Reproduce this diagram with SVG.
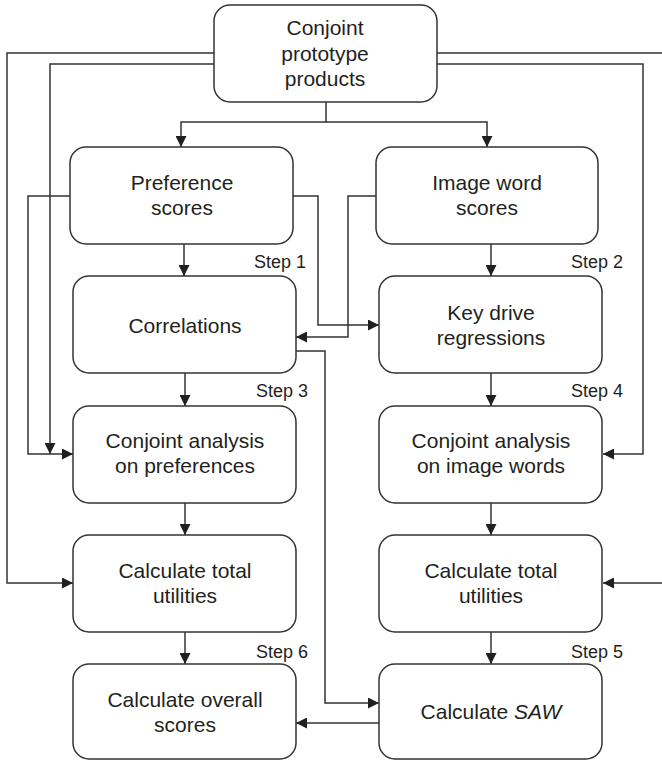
<svg xmlns="http://www.w3.org/2000/svg" width="662" height="761" viewBox="0 0 662 761">
  <style>
    .box { fill: #ffffff; stroke: #333333; stroke-width: 1.5; }
    .lbl { font-family: "Liberation Sans", Arial, sans-serif; font-size: 21px; fill: #231f20; text-anchor: middle; }
    .step { font-family: "Liberation Sans", Arial, sans-serif; font-size: 18px; fill: #231f20; text-anchor: end; }
    .wire { fill: none; stroke: #333333; stroke-width: 1.5; }
  </style>
  <defs>
    <marker id="arrow" viewBox="0 0 10 10" refX="10" refY="5" markerWidth="11" markerHeight="11" markerUnits="userSpaceOnUse" orient="auto">
      <path d="M0,0 L10,5 L0,10 Z" fill="#231f20"/>
    </marker>
  </defs>

  <rect width="662" height="761" fill="#ffffff"/>

  <!-- connectors -->
  <g id="connectors" class="wire" marker-end="url(#arrow)">
    <!-- prototype products fan-out -->
    <path d="M326,102 V122 H181 V147"/>
    <path d="M326,122 H487 V147"/>
    <path d="M214,53 H7 V583 H73"/>
    <path d="M214,64 H50 V454"/>
    <path d="M437,53 H668 V583 H603"/>
    <path d="M437,64 H643 V454 H603"/>
    <!-- score inputs -->
    <path d="M70,196 H28 V454 H73"/>
    <path d="M293,196 H318 V325 H379"/>
    <path d="M376,196 H348 V337 H296"/>
    <!-- correlations to SAW -->
    <path d="M296,351 H325 V703 H379"/>
    <path d="M379,723 H296"/>
    <!-- left column -->
    <path d="M184,244 V276"/>
    <path d="M185,373 V406"/>
    <path d="M185,503 V535"/>
    <path d="M185,632 V664"/>
    <!-- right column -->
    <path d="M491,244 V276"/>
    <path d="M491,373 V406"/>
    <path d="M491,503 V535"/>
    <path d="M491,632 V664"/>
  </g>

  <!-- nodes -->
  <g id="prototype-products">
    <rect class="box" x="214" y="5" width="223" height="97" rx="16"/>
    <text class="lbl" x="325" y="35">Conjoint</text>
    <text class="lbl" x="325" y="60.5">prototype</text>
    <text class="lbl" x="325" y="86">products</text>
  </g>
  <g id="preference-scores">
    <rect class="box" x="70" y="147" width="223" height="97" rx="16"/>
    <text class="lbl" x="182" y="190">Preference</text>
    <text class="lbl" x="182" y="215">scores</text>
  </g>
  <g id="image-word-scores">
    <rect class="box" x="376" y="147" width="222" height="97" rx="16"/>
    <text class="lbl" x="487" y="190">Image word</text>
    <text class="lbl" x="487" y="215">scores</text>
  </g>
  <g id="correlations">
    <rect class="box" x="73" y="276" width="223" height="97" rx="16"/>
    <text class="lbl" x="185" y="332.5">Correlations</text>
  </g>
  <g id="key-drive-regressions">
    <rect class="box" x="379" y="276" width="223" height="97" rx="16"/>
    <text class="lbl" x="491" y="320">Key drive</text>
    <text class="lbl" x="491" y="345">regressions</text>
  </g>
  <g id="conjoint-preferences">
    <rect class="box" x="73" y="406" width="223" height="97" rx="16"/>
    <text class="lbl" x="185" y="448">Conjoint analysis</text>
    <text class="lbl" x="185" y="473">on preferences</text>
  </g>
  <g id="conjoint-image-words">
    <rect class="box" x="379" y="406" width="223" height="97" rx="16"/>
    <text class="lbl" x="491" y="448">Conjoint analysis</text>
    <text class="lbl" x="491" y="473">on image words</text>
  </g>
  <g id="total-utilities-left">
    <rect class="box" x="73" y="535" width="223" height="97" rx="16"/>
    <text class="lbl" x="185" y="578">Calculate total</text>
    <text class="lbl" x="185" y="603">utilities</text>
  </g>
  <g id="total-utilities-right">
    <rect class="box" x="379" y="535" width="223" height="97" rx="16"/>
    <text class="lbl" x="491" y="578">Calculate total</text>
    <text class="lbl" x="491" y="603">utilities</text>
  </g>
  <g id="overall-scores">
    <rect class="box" x="73" y="664" width="223" height="95" rx="16"/>
    <text class="lbl" x="185" y="707">Calculate overall</text>
    <text class="lbl" x="185" y="732">scores</text>
  </g>
  <g id="saw">
    <rect class="box" x="379" y="664" width="223" height="95" rx="16"/>
    <text class="lbl" x="491" y="719">Calculate <tspan font-style="italic">SAW</tspan></text>
  </g>

  <!-- step labels -->
  <g id="steps">
    <text class="step" x="306" y="268">Step 1</text>
    <text class="step" x="623" y="268">Step 2</text>
    <text class="step" x="308" y="397">Step 3</text>
    <text class="step" x="623" y="397">Step 4</text>
    <text class="step" x="623" y="658">Step 5</text>
    <text class="step" x="308" y="658">Step 6</text>
  </g>
</svg>
